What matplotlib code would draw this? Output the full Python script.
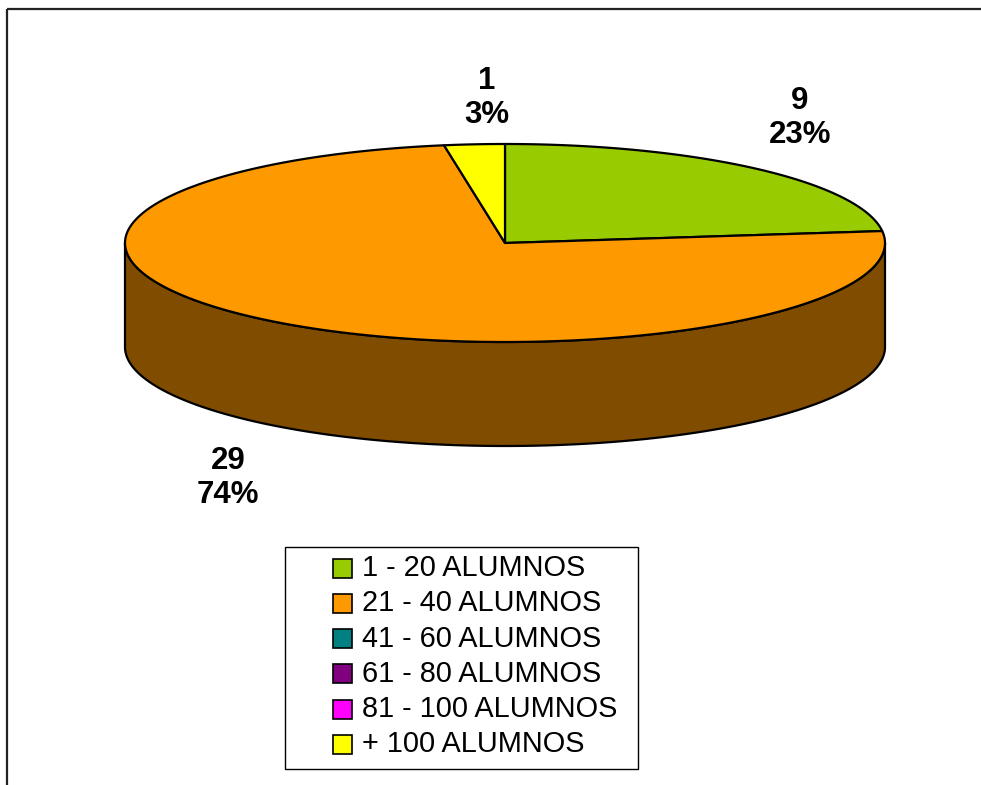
import numpy as np
import matplotlib.pyplot as plt
from matplotlib.patches import Polygon, Rectangle

plt.rcParams['font.family'] = ['Liberation Sans', 'DejaVu Sans']

# datos del grafico
categorias = ['1 - 20 ALUMNOS', '21 - 40 ALUMNOS', '41 - 60 ALUMNOS',
              '61 - 80 ALUMNOS', '81 - 100 ALUMNOS', '+ 100 ALUMNOS']
valores = [9, 29, 0, 0, 0, 1]
colores = ['#99CC00', '#FF9900', '#008080', '#800080', '#FF00FF', '#FFFF00']
colores_lado = ['#4C6600', '#7F4C00', '#004040', '#400040', '#7F007F', '#7F7F00']
# posicion de las etiquetas (pixeles)
pos_etiquetas = [(800, 118), (228, 478), None, None, None, (487, 98)]

W, H = 981, 785
fig = plt.figure(figsize=(W / 100, H / 100), dpi=100)
ax = fig.add_axes([0, 0, 1, 1])
ax.set_xlim(0, W)
ax.set_ylim(H, 0)
ax.axis('off')

# marco exterior (solo se ven arriba e izquierda)
ax.add_patch(Rectangle((7, 9), 1000, 800, fill=False, ec='#222222', lw=1.6))

# tarta 3D
cx, cy, rx, ry, prof = 505, 243, 380, 99, 104


def arco(a, b, dy=0):
    t = np.radians(np.linspace(a, b, max(int(abs(b - a) * 2), 2)))
    return np.column_stack([cx + rx * np.sin(t), cy - ry * np.cos(t) + dy])


total = sum(valores)
angulos = np.concatenate([[0], np.cumsum(valores) / total * 360])

# lados visibles (de 90 a 270 grados)
for i, v in enumerate(valores):
    if v == 0:
        continue
    a = max(angulos[i], 90)
    b = min(angulos[i + 1], 270)
    if a < b:
        pts = np.vstack([arco(a, b), arco(b, a, prof)])
        ax.add_patch(Polygon(pts, closed=True, fc=colores_lado[i], ec='black', lw=1.6))

# caras superiores
for i, v in enumerate(valores):
    if v == 0:
        continue
    pts = np.vstack([[cx, cy], arco(angulos[i], angulos[i + 1])])
    ax.add_patch(Polygon(pts, closed=True, fc=colores[i], ec='black', lw=1.6, joinstyle='round'))

# etiquetas
for i, v in enumerate(valores):
    if v == 0 or pos_etiquetas[i] is None:
        continue
    x, y = pos_etiquetas[i]
    ax.text(x, y, f'{v}\n{round(100 * v / total)}%', ha='center', va='center',
            fontsize=22.5, fontweight='bold', linespacing=1.2)

# leyenda
ax.add_patch(Rectangle((285, 547), 353, 222, fill=False, ec='black', lw=1))
for i, c in enumerate(categorias):
    y = 568 + i * 35.3
    ax.add_patch(Rectangle((333, y - 9.5), 19, 19, fc=colores[i], ec='black', lw=1.2))
    ax.text(362, y, c, ha='left', va='center', fontsize=20.8)

fig.savefig('out.png', dpi=100)
